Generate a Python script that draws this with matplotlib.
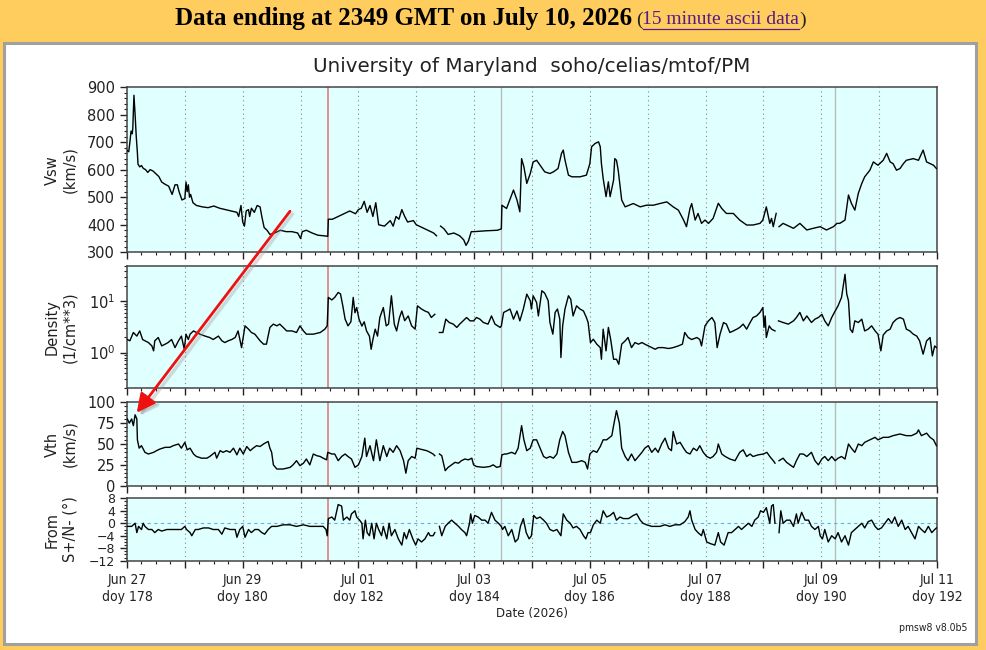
import numpy as np
import matplotlib
matplotlib.use('Agg')
import matplotlib.pyplot as plt
from matplotlib.patches import Rectangle, FancyArrowPatch
from matplotlib.lines import Line2D
from matplotlib.ticker import MultipleLocator, FixedLocator, NullFormatter, LogLocator

nan = float('nan')

# time axis: days since 2026-06-27 00:00 UT (doy 178)
vsw_t = [0.00, 0.03, 0.05, 0.07, 0.09, 0.10, 0.12, 0.14, 0.16, 0.18, 0.19, 0.22, 0.25, 0.28, 0.32,
         0.36, 0.40, 0.45, 0.50, 0.55, 0.60, 0.65, 0.72, 0.78, 0.83, 0.87, 0.90, 0.95, 1.00, 1.02,
         1.04, 1.06, 1.08, 1.10, 1.14, 1.20, 1.30, 1.40, 1.50, 1.60, 1.70, 1.80, 1.90, 1.93, 1.97,
         2.00, 2.03, 2.06, 2.10, 2.12, 2.15, 2.20, 2.25, 2.30, 2.33, 2.37, 2.42, 2.47, 2.55, 2.65,
         2.75, 2.85, 2.95, 3.00, 3.03, 3.10, 3.20, 3.30, 3.40, 3.47, 3.48, 3.55, 3.65, 3.75, 3.85,
         3.95, 4.00, 4.05, 4.10, 4.15, 4.20, 4.25, 4.30, 4.35, 4.45, 4.55, 4.60, 4.65, 4.70, 4.75,
         4.80, 4.85, 4.95, 5.00, 5.10, 5.20, 5.30, 5.35, 5.38, 5.42, 5.48, 5.55, 5.65, 5.75, 5.82,
         5.86, 5.90, 5.95, 6.00, 6.20, 6.40, 6.47, 6.48, 6.56, 6.68, 6.74, 6.79, 6.82, 6.86, 6.91,
         6.97, 7.02, 7.08, 7.14, 7.22, 7.31, 7.37, 7.45, 7.51, 7.54, 7.57, 7.63, 7.69, 7.83, 7.94,
         8.00, 8.03, 8.09, 8.15, 8.18, 8.20, 8.23, 8.28, 8.32, 8.35, 8.41, 8.43, 8.46, 8.49, 8.55,
         8.61, 8.75, 8.87, 8.98, 9.10, 9.21, 9.33, 9.44, 9.53, 9.62, 9.67, 9.73, 9.76, 9.82, 9.87,
         9.93, 9.99, 10.05, 10.13, 10.22, 10.28, 10.36, 10.48, 10.59, 10.71, 10.82, 10.94, 10.99,
         11.05, 11.08, 11.11, 11.14, 11.17, 11.22, 11.24, 11.27, 11.34, 11.46, 11.52, 11.63, 11.69,
         11.75, 11.86, 11.98, 12.09, 12.21, 12.27, 12.32, 12.41, 12.47, 12.52, 12.58, 12.64, 12.70,
         12.75, 12.84, 12.90, 12.98, 13.07, 13.13, 13.19, 13.24, 13.30, 13.36, 13.42, 13.47, 13.59,
         13.68, 13.76, 13.82, 13.88, 13.94, 13.99]
vsw = [670, 665, 700, 740, 730, 750, 870, 800, 720, 660, 620, 610, 615, 605, 600,
       590, 600, 595, 585, 575, 555, 548, 540, 510, 545, 545, 520, 490, 495, 555,
       520, 545, 500, 510, 480, 470, 465, 462, 468, 460, 455, 450, 445, 430, 470,
       410, 395, 450, 455, 430, 460, 445, 470, 465, 430, 390, 380, 365, 370, 380,
       375, 375, 370, 350, 375, 380, 370, 362, 360, 358, 420, 420, 430, 440, 450,
       440, 455, 460, 485, 445, 470, 430, 480, 400, 395, 415, 395, 430, 420, 455,
       430, 410, 415, 400, 390, 380, 370, 360, nan, 395, 385, 365, 370, 360, 345,
       325, 340, 375, 375, 378, 380, 385, 471, 459, 526, 490, 447, 640, 610, 550,
       586, 628, 634, 616, 592, 586, 592, 604, 659, 671, 635, 580, 574, 574, 580,
       622, 683, 695, 701, 683, 622, 568, 502, 556, 502, 562, 640, 634, 598, 490,
       465, 477, 465, 471, 471, 477, 483, 465, 453, 417, 393, 459, 477, 417, 441,
       405, 417, 405, 423, 478, 459, 441, 441, 417, 399, 399, 405, 417,
       465, 435, 405, 423, 393, 441, nan, 393, 405, 393, 387, 405, 393,
       381, 387, 393, 381, 393, 405, 405, 417, 508, 478, 453, 514, 550,
       574, 598, 628, 616, 634, 659, 628, 622, 598, 604, 622, 634, 640,
       634, 671, 628, 622, 616, 604]

dens_t = [0.006, 0.05, 0.11, 0.17, 0.22, 0.27, 0.31, 0.37, 0.43, 0.46, 0.48, 0.54, 0.60, 0.66, 0.71,
          0.77, 0.83, 0.89, 0.94, 0.99, 1.02, 1.06, 1.09, 1.15, 1.20, 1.26, 1.35, 1.43, 1.49, 1.58,
          1.64, 1.69, 1.75, 1.81, 1.87, 1.92, 1.98, 2.04, 2.10, 2.15, 2.21, 2.30, 2.36, 2.41, 2.47,
          2.53, 2.59, 2.64, 2.70, 2.76, 2.85, 2.93, 2.99, 3.05, 3.10, 3.22, 3.34, 3.42, 3.46, 3.48,
          3.54, 3.59, 3.65, 3.69, 3.73, 3.77, 3.82, 3.87, 3.91, 3.94, 3.97, 4.01, 4.06, 4.10, 4.14,
          4.19, 4.22, 4.25, 4.29, 4.33, 4.37, 4.43, 4.48, 4.52, 4.57, 4.62, 4.66, 4.71, 4.75, 4.80,
          4.86, 4.92, 4.98, 5.02, 5.09, 5.15, 5.21, 5.26, 5.32, 5.36, 5.40, 5.46, 5.51, 5.57, 5.64,
          5.70, 5.75, 5.81, 5.87, 5.93, 5.99, 6.04, 6.10, 6.16, 6.24, 6.30, 6.36, 6.45, 6.47, 6.51,
          6.56, 6.62, 6.68, 6.74, 6.79, 6.85, 6.91, 6.97, 6.99, 7.02, 7.08, 7.11, 7.17, 7.22, 7.28,
          7.31, 7.36, 7.40, 7.44, 7.48, 7.50, 7.53, 7.57, 7.63, 7.67, 7.71, 7.77, 7.83, 7.89, 7.94,
          7.97, 8.01, 8.06, 8.12, 8.18, 8.20, 8.23, 8.28, 8.32, 8.36, 8.41, 8.46, 8.50, 8.55, 8.61,
          8.66, 8.72, 8.78, 8.84, 8.90, 8.95, 9.01, 9.07, 9.13, 9.18, 9.27, 9.36, 9.44, 9.53, 9.60,
          9.64, 9.70, 9.76, 9.85, 9.90, 9.93, 9.99, 10.05, 10.11, 10.16, 10.20, 10.25, 10.31, 10.36,
          10.42, 10.48, 10.54, 10.59, 10.65, 10.71, 10.77, 10.82, 10.88, 10.94, 10.99, 11.01, 11.03,
          11.05, 11.10, 11.14, 11.20, 11.23, 11.26, 11.34, 11.43, 11.52, 11.57, 11.63, 11.69, 11.75,
          11.83, 11.89, 11.95, 12.01, 12.06, 12.12, 12.18, 12.24, 12.29, 12.35, 12.38, 12.41, 12.44,
          12.47, 12.50, 12.54, 12.58, 12.64, 12.70, 12.75, 12.81, 12.87, 12.93, 12.98, 13.03, 13.07,
          13.13, 13.19, 13.24, 13.30, 13.36, 13.42, 13.47, 13.53, 13.59, 13.65, 13.70, 13.76, 13.82,
          13.88, 13.92, 13.96, 13.99]
dens = [1.8, 1.7, 2.47, 2.1, 2.65, 1.8, 1.7, 1.57, 1.35, 1.08, 1.7, 1.97, 1.35, 1.46, 1.57,
        1.8, 1.25, 1.7, 2.1, 1.16, 2.29, 1.8, 2.29, 2.65, 2.47, 2.29, 2.1, 1.97, 1.8, 2.1,
        1.7, 1.57, 1.7, 1.8, 1.97, 2.65, 1.25, 3.33, 2.87, 2.47, 2.29, 1.7, 1.46, 1.46, 3.1,
        3.6, 3.33, 3.6, 3.1, 2.65, 2.65, 2.47, 3.33, 2.65, 2.29, 2.29, 2.47, 2.87, 3.33, 12.0,
        10.7, 12.0, 15.0, 14.0, 8.2, 4.5, 3.33, 4.0, 12.0, 6.0, 7.6, 4.5, 3.3, 4.0, 2.65,
        2.1, 1.16, 1.8, 2.87, 2.1, 4.85, 7.6, 3.33, 3.6, 12.9, 3.6, 2.65, 4.85, 6.5, 4.2,
        5.2, 3.33, 2.87, 8.2, 7.1, 6.5, 6.1, 4.85, 5.6, nan, 2.47, 2.47, 4.5, 3.87, 3.6,
        3.1, 3.6, 4.17, 4.85, 4.17, 4.17, 4.85, 4.5, 3.87, 3.6, 5.2, 3.6, 3.1, 3.33, 6.1,
        6.5, 7.1, 4.5, 6.5, 4.17, 7.1, 13.9, 10.3, 7.1, 12.9, 9.5, 5.2, 16.2, 14.5, 10.3,
        3.87, 2.29, 6.1, 7.1, 4.5, 0.8, 3.33, 7.1, 12.9, 11.0, 5.2, 8.2, 7.1, 6.5, 4.85,
        3.87, 1.57, 1.82, 1.46, 1.25, 0.74, 2.87, 1.08, 3.1, 1.8, 0.74, 0.74, 0.59, 1.46, 1.69,
        1.97, 1.25, 1.57, 1.46, 1.57, 1.46, 1.35, 1.25, 1.16, 1.25, 1.25, 1.2, 1.25, 1.35, 1.46,
        2.47, 1.97, 1.8, 1.97, 1.8, 1.35, 3.33, 4.17, 4.85, 3.87, 1.25, 2.29, 3.87, 3.6,
        2.47, 2.65, 2.87, 3.1, 3.6, 2.87, 3.87, 4.85, 5.2, 6.1, 7.6, 3.1, 5.2,
        1.97, 3.33, 2.87, 2.65, nan, 4.17, 3.87, 3.6, 4.17, 4.85, 6.1, 4.17, 5.2,
        3.87, 4.5, 4.85, 5.6, 4.17, 3.33, 4.85, 6.5, 8.2, 12.0, 20.0, 34.0, 14.0,
        10.3, 2.87, 2.47, 4.17, 3.87, 4.5, 2.65, 2.87, 3.33, 2.65, 2.29, 1.08, 2.2,
        2.65, 2.87, 3.87, 4.5, 4.85, 4.5, 2.87, 2.65, 2.29, 2.1, 1.69, 0.93, 1.69,
        1.97, 0.86, 1.35, 1.25]

vth_t = [0.006, 0.04, 0.08, 0.11, 0.14, 0.17, 0.18, 0.21, 0.25, 0.31, 0.37, 0.46, 0.51, 0.57, 0.66,
         0.74, 0.80, 0.89, 0.94, 1.00, 1.04, 1.09, 1.15, 1.20, 1.29, 1.38, 1.43, 1.52, 1.55, 1.61,
         1.66, 1.72, 1.78, 1.84, 1.90, 1.95, 2.01, 2.07, 2.13, 2.18, 2.24, 2.30, 2.36, 2.41, 2.44,
         2.47, 2.50, 2.53, 2.59, 2.70, 2.82, 2.87, 2.93, 2.99, 3.05, 3.10, 3.16, 3.22, 3.28, 3.34,
         3.39, 3.45, 3.47, 3.54, 3.59, 3.65, 3.71, 3.77, 3.82, 3.88, 3.94, 4.00, 4.06, 4.11, 4.14,
         4.20, 4.26, 4.31, 4.37, 4.43, 4.49, 4.54, 4.60, 4.66, 4.72, 4.78, 4.82, 4.86, 4.92, 4.98,
         5.01, 5.06, 5.12, 5.18, 5.24, 5.29, 5.32, 5.36, 5.40, 5.44, 5.50, 5.55, 5.61, 5.67, 5.73,
         5.78, 5.84, 5.90, 5.96, 5.99, 6.04, 6.16, 6.27, 6.33, 6.39, 6.45, 6.48, 6.53, 6.56, 6.65,
         6.71, 6.76, 6.82, 6.86, 6.91, 6.97, 7.02, 7.08, 7.14, 7.20, 7.25, 7.31, 7.37, 7.43, 7.48,
         7.53, 7.57, 7.63, 7.69, 7.77, 7.86, 7.92, 7.96, 8.00, 8.06, 8.12, 8.18, 8.23, 8.29, 8.38,
         8.41, 8.46, 8.51, 8.55, 8.61, 8.66, 8.72, 8.78, 8.84, 8.90, 8.95, 9.01, 9.07, 9.13, 9.18,
         9.24, 9.30, 9.36, 9.41, 9.44, 9.50, 9.56, 9.62, 9.67, 9.73, 9.79, 9.85, 9.90, 9.96, 10.02,
         10.08, 10.13, 10.19, 10.22, 10.28, 10.34, 10.42, 10.51, 10.59, 10.65, 10.71, 10.77, 10.82,
         10.91, 11.00, 11.06, 11.11, 11.17, 11.20, 11.23, 11.27, 11.34, 11.40, 11.46, 11.52, 11.57,
         11.63, 11.69, 11.75, 11.83, 11.89, 11.95, 12.01, 12.06, 12.12, 12.18, 12.24, 12.29, 12.35,
         12.41, 12.47, 12.52, 12.58, 12.64, 12.70, 12.75, 12.84, 12.93, 12.98, 13.07, 13.16, 13.24,
         13.36, 13.47, 13.56, 13.65, 13.68, 13.73, 13.82, 13.88, 13.94, 13.99]
vth = [80, 75, 80, 72, 85, 80, 55, 45, 48, 40, 38, 40, 42, 44, 46,
       46, 48, 50, 45, 52, 43, 45, 38, 35, 33, 33, 35, 40, 33, 42,
       40, 42, 40, 45, 37, 45, 38, 47, 42, 45, 48, 47, 50, 52, 53,
       45, 40, 25, 20, 20, 22, 25, 30, 24, 27, 32, 25, 38, 36, 35,
       33, 31, 40, 38, 38, 30, 35, 38, 35, 32, 22, 25, 35, 57, 35,
       48, 30, 55, 30, 48, 35, 45, 40, 48, 42, 30, 15, 30, 35, 33,
       45, 44, 43, 42, 40, 38, 36, nan, 38, 36, 18, 22, 25, 28, 27,
       30, 32, 31, 33, 25, 23, 22, 23, 25, 22, 23, 37, 38, 38, 40,
       38, 45, 72, 55, 42, 45, 55, 55, 45, 35, 33, 35, 33, 38, 55,
       65, 60, 40, 28, 28, 30, 28, 20, 38, 42, 40, 47, 55, 55, 60,
       72, 90, 75, 45, 35, 30, 38, 30, 35, 40, 45, 48, 40, 45, 40,
       50, 57, 45, 42, 65, 50, 52, 45, 40, 38, 45, 42, 48, 40, 35,
       33, 35, 40, 50, 38, 35, 32, 30, 40, 43, 35, 38, 35,
       37, 38, 40, 35, 30, 27, nan, 30, 33, 28, 25, 22, 30,
       38, 38, 35, 40, 30, 25, 32, 35, 30, 35, 30, 33, 35,
       32, 50, 45, 40, 50, 48, 52, 55, 58, 55, 58, 58, 60,
       62, 60, 60, 63, 67, 60, 63, 58, 55, 48]

ang_t = [0.006, 0.08, 0.14, 0.17, 0.20, 0.25, 0.28, 0.31, 0.37, 0.43, 0.48, 0.54, 0.60, 0.69, 0.77,
         0.86, 0.94, 1.00, 1.03, 1.09, 1.12, 1.18, 1.23, 1.32, 1.41, 1.49, 1.58, 1.64, 1.69, 1.78,
         1.87, 1.90, 1.95, 2.00, 2.04, 2.10, 2.15, 2.21, 2.27, 2.33, 2.38, 2.44, 2.50, 2.59, 2.70,
         2.82, 2.93, 3.05, 3.16, 3.28, 3.39, 3.44, 3.46, 3.48, 3.54, 3.59, 3.65, 3.71, 3.74, 3.80,
         3.85, 3.88, 3.94, 3.97, 4.02, 4.06, 4.08, 4.12, 4.15, 4.19, 4.23, 4.27, 4.31, 4.35, 4.40,
         4.43, 4.49, 4.53, 4.57, 4.63, 4.69, 4.75, 4.79, 4.83, 4.88, 4.94, 4.99, 5.03, 5.09, 5.15,
         5.21, 5.24, 5.29, 5.32, 5.36, 5.40, 5.44, 5.50, 5.55, 5.61, 5.67, 5.73, 5.78, 5.84, 5.87,
         5.92, 5.94, 5.97, 6.01, 6.07, 6.13, 6.19, 6.24, 6.30, 6.36, 6.42, 6.47, 6.49, 6.53, 6.59,
         6.65, 6.71, 6.76, 6.80, 6.85, 6.90, 6.95, 6.99, 7.03, 7.08, 7.14, 7.20, 7.25, 7.31, 7.37,
         7.43, 7.50, 7.54, 7.60, 7.66, 7.71, 7.77, 7.83, 7.89, 7.93, 7.97, 8.01, 8.06, 8.12, 8.18,
         8.23, 8.29, 8.35, 8.41, 8.46, 8.52, 8.58, 8.67, 8.75, 8.81, 8.87, 8.92, 8.98, 9.07, 9.13,
         9.21, 9.30, 9.38, 9.47, 9.56, 9.64, 9.70, 9.73, 9.76, 9.82, 9.87, 9.93, 9.96, 10.02, 10.08,
         10.16, 10.22, 10.26, 10.32, 10.39, 10.45, 10.51, 10.57, 10.62, 10.68, 10.74, 10.80, 10.85,
         10.91, 10.95, 11.00, 11.05, 11.11, 11.14, 11.17, 11.20, 11.23, 11.27, 11.30, 11.34, 11.40,
         11.46, 11.52, 11.57, 11.60, 11.66, 11.72, 11.78, 11.83, 11.89, 11.95, 11.98, 12.02, 12.06,
         12.12, 12.18, 12.24, 12.29, 12.35, 12.41, 12.47, 12.52, 12.58, 12.64, 12.70, 12.75, 12.81,
         12.87, 12.93, 12.98, 13.04, 13.10, 13.16, 13.22, 13.27, 13.33, 13.39, 13.45, 13.50, 13.56,
         13.62, 13.68, 13.73, 13.79, 13.85, 13.91, 13.96, 13.99]
ang = [-1, -1, 0, -3, -1, -2, 0, -1, -2, -2, -3, -2, -2.5, -2, -2,
       -2, -2, -1, -2, -3, -4, -2, -2, -1.5, -1.5, -2, -2, -3.5, -1.5, -2,
       -2, -4.5, -2, -1, -4.5, -2, -3, -2, -2, -3, -3.5, -2, -1, -1, -0.5,
       -0.5, -1, -0.5, -1, -1, -1, -2, -4, 1.5, 2, 1, 6, 5.5, 1, 2,
       1, 3, 4, 2, 1, 0, -5, 1, -3, -4, 0, -5, 0, -2, -4,
       -1, -5, 0, -4, -2, -5, -7, -3, -5, -2, -5, -7, -5, -6, -5,
       -3, -4, -4, -3, nan, -1, -4, -1, 0, 1, 0, -1, -2, -3, -4,
       0, 3, 0, 2.5, 2, 1, 1, 0, 3.5, 1, 0, -1, -2, -1, -4,
       -2, -6, -5, -1, 1.5, -3, -5, -4, 2.5, 1.5, 2, 1, 0, -2, -2.5,
       -2, -4, 3, 1, 0, -1.5, -1, -2, -4, -5, -3, -3, -0.5, 1, 0,
       4, 2, 2.5, 3.5, 1, 2, 1.5, 1.5, 2.5, 3, 1, 0, -0.5, -1, -1,
       -1, -0.5, -1, -0.5, -0.5, 0.5, 2, 4, 1, -2, -3, -4, -2, -6, -6.5,
       -7, -3, -6, -7, -3, -3, -2, -1, -2, -1, 0, -1, 1,
       2, 4, 3.5, 5, 0, 5.5, 6, 0, nan, -3, 4, 0, 1,
       1, -1, 3, 0, 3.5, 1, 1, -1, -2, -1, -4, -5, -2,
       -6, -4, -5, -3, -6, -4, -7, -3, -2, -1, 0, -1.5, 0.5,
       1, -1, -2, -1.5, 0, 1.5, 0, 2, -1, 1, -2, -1, -3,
       -5, -1, -2, -3, -1, -3, -2, -1.5]

tick_days = [0, 2, 4, 6, 8, 10, 12, 14]
tick_labels = ["Jun 27\ndoy 178", "Jun 29\ndoy 180", "Jul 01\ndoy 182", "Jul 03\ndoy 184",
               "Jul 05\ndoy 186", "Jul 07\ndoy 188", "Jul 09\ndoy 190", "Jul 11\ndoy 192"]
red_mark = 3.47
gray_marks = [6.47, 12.24]

W, H = 986, 650
fig = plt.figure(figsize=(W / 100, H / 100), dpi=100, facecolor='#ffcc5e')

def fx(px):
    return px / W

def fy(py):
    return 1 - py / H

# white page frame, kept behind the axes
fig.patches.append(Rectangle((fx(4), fy(644)), fx(976) - fx(4), fy(43) - fy(644),
                             transform=fig.transFigure, facecolor='white',
                             edgecolor='#a0a0a0', lw=2.2, zorder=-10))

# header line with the link
r = fig.canvas.get_renderer()
hx = 632
fig.text(fx(hx), fy(19), "Data ending at 2349 GMT on July 10, 2026", ha='right', va='center',
         family='Liberation Serif', weight='bold', fontsize=18, color='black')
t2 = fig.text(fx(hx + 4), fy(20), "(", ha='left', va='center', family='Liberation Serif',
              fontsize=14, color='#222222')
bb = t2.get_window_extent(r)
t3 = fig.text(bb.x1 / W, fy(20), "15 minute ascii data", ha='left', va='center',
              family='Liberation Serif', fontsize=14, color='#551a8b')
bb3 = t3.get_window_extent(r)
fig.text(bb3.x1 / W, fy(20), ")", ha='left', va='center', family='Liberation Serif',
         fontsize=14, color='#222222')
fig.add_artist(Line2D([bb3.x0 / W, bb3.x1 / W], [fy(29), fy(29)], transform=fig.transFigure,
                      color='#551a8b', lw=0.9))

panels = [(87, 252.3), (265.7, 388.3), (402.3, 485.7), (498.3, 560.7)]
series = [(vsw_t, vsw), (dens_t, dens), (vth_t, vth), (ang_t, ang)]
ylabels = ["Vsw\n(km/s)", "Density\n(1/cm**3)", "Vth\n(km/s)", "From\nS+/N- (°)"]

axes = []
for i, (top, bot) in enumerate(panels):
    ax = fig.add_axes([fx(127), fy(bot), fx(937) - fx(127), (bot - top) / H])
    ax.set_facecolor('#e0ffff')
    t, v = series[i]
    ax.plot(t, v, color='black', lw=1.0, zorder=3)
    for d in range(1, 14):
        ax.axvline(d, color='#888888', ls=(0, (1, 3)), lw=0.8, zorder=1)
    ax.axvline(red_mark, color='#e07070', lw=1.1, zorder=2)
    for g in gray_marks:
        ax.axvline(g, color='#bbbbbb', lw=1.0, zorder=2)
    ax.set_xlim(0, 14)
    ax.xaxis.set_major_locator(MultipleLocator(1))
    ax.xaxis.set_minor_locator(MultipleLocator(0.25))
    ax.tick_params(which='both', direction='out', top=False, right=False, labelsize=10.5,
                   colors='#222222')
    ax.tick_params(which='major', length=5, width=1)
    ax.tick_params(which='minor', length=2.5, width=0.8)
    for s in ax.spines.values():
        s.set_color('#444444')
        s.set_linewidth(1.1)
    if i < 3:
        ax.set_xticklabels([])
    fig.text(fx(61), fy((top + bot) / 2), ylabels[i], rotation=90, ha='center', va='center',
             multialignment='center', fontsize=10.5, color='#222222', linespacing=1.25)
    axes.append(ax)

ax_v, ax_d, ax_t, ax_a = axes
ax_v.set_ylim(300, 900)
ax_v.yaxis.set_major_locator(MultipleLocator(100))
ax_v.yaxis.set_minor_locator(MultipleLocator(20))

ax_d.set_yscale('log')
ax_d.set_ylim(0.2, 50)
ax_d.yaxis.set_major_locator(FixedLocator([1, 10]))
ax_d.yaxis.set_minor_locator(LogLocator(base=10, subs=np.arange(2, 10)))
ax_d.yaxis.set_minor_formatter(NullFormatter())
ax_d.set_yticklabels(['$10^0$', '$10^1$'])

ax_t.set_ylim(0, 100)
ax_t.yaxis.set_major_locator(MultipleLocator(25))
ax_t.yaxis.set_minor_locator(MultipleLocator(5))

ax_a.set_ylim(-12, 8)
ax_a.yaxis.set_major_locator(MultipleLocator(4))
ax_a.yaxis.set_minor_locator(MultipleLocator(1))
ax_a.axhline(0, color='#6aaed6', ls=(0, (3, 3)), lw=0.8, zorder=2)
ax_a.tick_params(axis='y', labelsize=9)

ax_a.set_xticks(range(15))
ax_a.set_xticklabels([tick_labels[tick_days.index(d)] if d in tick_days else '' for d in range(15)],
                     fontsize=10, linespacing=1.25, stretch='condensed')
ax_a.tick_params(axis='x', pad=4)

fig.text(fx(532), fy(67), "University of Maryland  soho/celias/mtof/PM", ha='center', va='center',
         fontsize=14.3, color='#222222')
fig.text(fx(532), fy(613), "Date (2026)", ha='center', va='center', fontsize=9.5,
         stretch='condensed', color='#222222')
fig.text(fx(967), fy(628), "pmsw8 v8.0b5", ha='right', va='center', fontsize=7.5,
         stretch='condensed', color='#222222')

# red pointer arrow with soft shadow
shadow = FancyArrowPatch((fx(294), fy(212)), (fx(138), fy(418)), transform=fig.transFigure,
                         arrowstyle='-|>,head_length=7,head_width=3.5', color='#999999',
                         lw=2.5, alpha=0.35, mutation_scale=1.6)
fig.add_artist(shadow)
arrow = FancyArrowPatch((fx(291.7), fy(209)), (fx(135), fy(415)), transform=fig.transFigure,
                        arrowstyle='-|>,head_length=7,head_width=3.5', color='#ee1111',
                        lw=2.0, mutation_scale=1.6)
fig.add_artist(arrow)

fig.savefig('out.png', dpi=100, facecolor=fig.get_facecolor())
